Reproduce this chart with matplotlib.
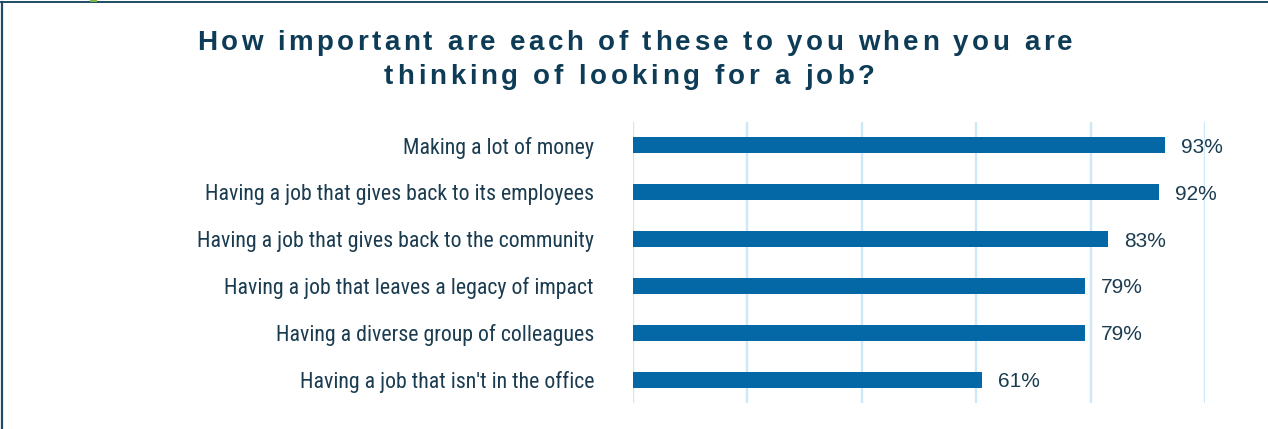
import matplotlib
matplotlib.use("Agg")
import matplotlib.pyplot as plt
from matplotlib import font_manager as fm
from matplotlib.font_manager import FontProperties, findfont, get_font
from matplotlib.lines import Line2D
from matplotlib.patches import Rectangle

# Survey data
categories = [
    "Making a lot of money",
    "Having a job that gives back to its employees",
    "Having a job that gives back to the community",
    "Having a job that leaves a legacy of impact",
    "Having a diverse group of colleagues",
    "Having a job that isn't in the office",
]
values = [93, 92, 83, 79, 79, 61]
x_ticks = [0, 20, 40, 60, 80, 100]
title_lines = [
    "How important are each of these to you when you are",
    "thinking of looking for a job?",
]

W, H, DPI = 1268, 429, 100
BAR = "#0467a6"
GRID = "#cde8f7"
TEXT = "#1b3c50"
TITLE = "#0e3c56"
FRAME = "#1d4c64"

fig = plt.figure(figsize=(W / DPI, H / DPI), dpi=DPI)
fig.patch.set_facecolor("white")


def narrow_font():
    """Pick a condensed regular sans face if one is installed."""
    narrow_stretch = {"condensed", "semi-condensed", "extra-condensed",
                      "ultra-condensed", 300, 400, 500, 200, 100}
    cands = []
    for f in fm.fontManager.ttflist:
        key = (f.name + " " + f.fname).lower()
        is_narrow = ("narrow" in key or "condensed" in key
                     or f.stretch in narrow_stretch)
        if not is_narrow:
            continue
        if "bold" in f.fname.lower() or "italic" in f.fname.lower() or "oblique" in f.fname.lower():
            continue
        if f.weight not in (400, "normal", "regular"):
            continue
        rank = 0 if "liberation" in key else 1 if "roboto" in key else 2 if "open" in key else 3
        cands.append((rank, f.fname))
    if cands:
        cands.sort()
        return FontProperties(fname=cands[0][1])
    return FontProperties(family="Liberation Sans")


label_prop = narrow_font()

# Plot area in pixel coordinates
x0, x1, ytop, ybot = 633, 1205, 122, 403
ax = fig.add_axes([x0 / W, 1 - ybot / H, (x1 - x0) / W, (ybot - ytop) / H])
ypos = list(range(len(categories)))
ax.barh(ypos, values, height=0.36, color=BAR, zorder=3)
ax.set_xlim(0, 100)
ax.set_ylim(len(categories) - 0.51, -0.49)
ax.set_xticks(x_ticks)
ax.set_xticklabels([])
ax.grid(axis="x", color=GRID, lw=1.7, zorder=0)
ax.grid(axis="y", visible=False)
for s in ax.spines.values():
    s.set_visible(False)
ax.tick_params(length=0)

# Category labels, sized so the longest one spans its column
renderer = fig.canvas.get_renderer()
label_prop.set_size(17)
probe = fig.text(0, 0, max(categories, key=len), fontproperties=label_prop)
w = probe.get_window_extent(renderer).width
probe.remove()
lab_size = min(17.5, 17 * 390.0 / w)
label_prop.set_size(lab_size)
ax.set_yticks(ypos)
ax.set_yticklabels(categories, fontproperties=label_prop, color=TEXT)
ax.tick_params(axis="y", pad=39 * 72 / DPI)

for i, v in enumerate(values):
    ax.annotate(f"{v}%", (v, i), xytext=(16, 0), textcoords="offset pixels",
                va="center_baseline", ha="left", fontsize=15,
                family="Liberation Sans", color=TEXT)


def tracked_line(text, left, right, baseline, size):
    """Draw a bold line of text with even letter spacing between left and right (px)."""
    prop = FontProperties(family="Liberation Sans", weight="bold", size=size)
    font = get_font(findfont(prop))
    font.set_size(size, DPI)
    adv = []
    for c in text:
        g = font.load_char(ord(c))
        adv.append(g.linearHoriAdvance / 65536.0)
    base = sum(adv[:-1]) + adv[-1] * 0.9
    track = (right - left - base) / (len(text) - 1)
    x = left
    for c, a in zip(text, adv):
        if c != " ":
            fig.text(x / W, 1 - baseline / H, c, fontproperties=prop,
                     color=TITLE, ha="left", va="baseline")
        x += a + track


tracked_line(title_lines[0], 197, 1071, 49.5, 20)
tracked_line(title_lines[1], 384, 873, 83.5, 20)

# Frame along the top and left edges, with the small green tab
fig.add_artist(Line2D([1.5 / W, 1.5 / W], [0, 1 - 1.5 / H], transform=fig.transFigure,
                      color=FRAME, lw=1.6))
fig.add_artist(Line2D([1 / W, 1], [1 - 2 / H, 1 - 2 / H], transform=fig.transFigure,
                      color=FRAME, lw=1.4))
fig.add_artist(Rectangle((90 / W, 1 - 2 / H), 7 / W, 2 / H, transform=fig.transFigure,
                         facecolor="#7ab648", edgecolor="none", zorder=5))

fig.savefig("out.png", dpi=DPI)
